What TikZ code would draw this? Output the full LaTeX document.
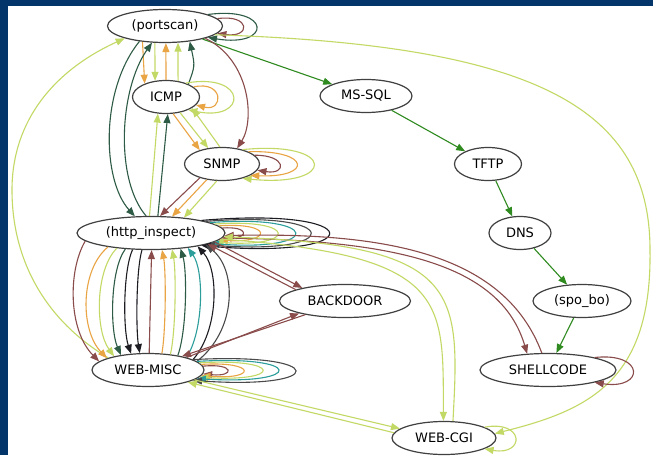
\documentclass[tikz,border=0pt]{standalone}
\usepackage{fontspec}
\setmainfont{DejaVu Sans}
\usetikzlibrary{shapes.geometric,arrows.meta}

\definecolor{frameblue}{HTML}{04356A}
\definecolor{brn}{HTML}{8A4B4B}
\definecolor{org}{HTML}{E9A443}
\definecolor{lim}{HTML}{C2D965}
\definecolor{dgr}{HTML}{2E5B45}
\definecolor{tea}{HTML}{2B9E9B}
\definecolor{blk}{HTML}{1C1C22}
\definecolor{gry}{HTML}{4A4A4A}
\definecolor{grn}{HTML}{2F8B20}

\begin{document}
\begin{tikzpicture}[x=1pt,y=-1pt,
  state/.style={ellipse,draw=black!75,line width=1.2pt,fill=white,inner sep=0pt,
    minimum height=33pt,font=\fontsize{13}{15}\selectfont},
  edge/.style={line width=1.1pt,-{Triangle[length=9pt,width=7pt]}}]

\useasboundingbox (0,0) rectangle (653,455);
\fill[frameblue] (0,0) rectangle (653,455);
\fill[white] (8,6) rectangle (653,455);

    % Nodes
    \node[state,minimum width=115pt] (ps) at (165,26) {(portscan)};
    \node[state,minimum width=67pt] (icmp) at (166,97) {ICMP};
    \node[state,minimum width=75pt] (snmp) at (222,164) {SNMP};
    \node[state,minimum width=148pt] (http) at (151,233) {(http\_inspect)};
    \node[state,minimum width=112pt] (wm) at (148,370) {WEB-MISC};
    \node[state,minimum width=131pt] (bd) at (345,301) {BACKDOOR};
    \node[state,minimum width=92pt] (ms) at (366,96) {MS-SQL};
    \node[state,minimum width=67pt] (tftp) at (488,164) {TFTP};
    \node[state,minimum width=62pt] (dns) at (520,233) {DNS};
    \node[state,minimum width=98pt] (spo) at (582,301) {(spo\_bo)};
    \node[state,minimum width=136pt] (sc) at (548,370) {SHELLCODE};
    \node[state,minimum width=104pt] (cgi) at (444,438) {WEB-CGI};

    % Green chain
    \draw[edge,grn] (ps) -- (ms);
    \draw[edge,grn] (ms) -- (tftp);
    \draw[edge,grn] (tftp) -- (dns);
    \draw[edge,grn] (dns) -- (spo);
    \draw[edge,grn] (spo) -- (sc);

    % portscan loops and long curves
    \draw[edge,brn] (ps.8) .. controls (251,14) and (251,38) .. (ps.-8);
    \draw[edge,dgr] (ps.15) .. controls (272,6) and (272,48) .. (ps.-15);
    \draw[edge,lim] (ps.-10) .. controls (540,45) and (650,110) .. (650,250)
        .. controls (652,380) and (590,410) .. (cgi.5);
    \draw[edge,lim] (wm.163) .. controls (45,320) and (12,260) .. (12,190)
        .. controls (12,120) and (55,70) .. (ps.197);

    % portscan - ICMP - http_inspect
    \draw[edge,org] (ps.215) -- (icmp.148);
    \draw[edge,lim] (ps.239) -- (icmp.124);
    \draw[edge,org] (icmp.90) -- (ps.273);
    \draw[edge,lim] (icmp.53) -- (ps.308);
    \draw[edge,dgr] (icmp.30) .. controls (195,66) .. (ps.328);
    \draw[edge,dgr] (ps.211) .. controls (100,90) and (102,180) .. (http.134);
    \draw[edge,dgr] (http.106) .. controls (115,180) and (119,90) .. (ps.232);
    \draw[edge,lim] (http.95) -- (icmp.244);
    \draw[edge,dgr] (http.68) -- (icmp.276);
    \draw[edge,brn] (ps.343) .. controls (250,60) and (255,120) .. (snmp.46);

    % ICMP loops, ICMP - SNMP
    \draw[edge,org] (icmp.20) .. controls (224,80) and (224,112) .. (icmp.-15);
    \draw[edge,lim] (icmp.35) .. controls (248,72) and (248,122) .. (icmp.-30);
    \draw[edge,org] (icmp.293) -- (snmp.148);
    \draw[edge,lim] (icmp.312) -- (snmp.131);
    \draw[edge,lim] (snmp.97) -- (icmp.337);

    % SNMP loops, SNMP - http_inspect
    \draw[edge,brn] (snmp.15) .. controls (287,155) and (287,175) .. (snmp.-10);
    \draw[edge,org] (snmp.25) .. controls (312,150) and (312,178) .. (snmp.-22);
    \draw[edge,lim] (snmp.35) .. controls (337,140) and (337,188) .. (snmp.-35);
    \draw[edge,brn] (snmp.212) -- (http.62);
    \draw[edge,org] (snmp.226) -- (http.38);
    \draw[edge,lim] (snmp.253) -- (http.25);

    % http_inspect loops
    \draw[edge,brn] (http.4) .. controls (249,226) and (249,238) .. (http.-4);
    \draw[edge,org] (http.6) .. controls (273,222) and (273,243) .. (http.-6);
    \draw[edge,lim] (http.8) .. controls (298,218) and (298,248) .. (http.-8);
    \draw[edge,tea] (http.10) .. controls (323,214) and (323,252) .. (http.-10);
    \draw[edge,gry] (http.12) .. controls (345,210) and (345,256) .. (http.-12);
    \draw[edge,blk] (http.14) .. controls (371,206) and (371,260) .. (http.-14);

    % http_inspect -> WEB-MISC
    \draw[edge,brn] (http.187) .. controls (68,270) and (68,330) .. (wm.170);
    \draw[edge,org] (http.198) .. controls (80,270) and (80,330) .. (wm.164);
    \draw[edge,lim] (http.204) .. controls (95,270) and (95,330) .. (wm.158);
    \draw[edge,dgr] (http.212) .. controls (110,270) and (110,330) .. (wm.151);
    \draw[edge,blk] (http.222) .. controls (123,270) and (123,330) .. (wm.136);
    \draw[edge,blk] (http.242) .. controls (136,270) and (136,330) .. (wm.116);

    % WEB-MISC -> http_inspect
    \draw[edge,brn] (wm.86) -- (http.272);
    \draw[edge,org] (wm.50) .. controls (166,330) and (166,270) .. (http.303);
    \draw[edge,lim] (wm.35) .. controls (176,330) and (176,270) .. (http.322);
    \draw[edge,dgr] (wm.26) .. controls (187,330) and (187,270) .. (http.332);
    \draw[edge,tea] (wm.18) .. controls (204,330) and (204,270) .. (http.338);
    \draw[edge,blk] (wm.13) .. controls (219,330) and (219,270) .. (http.344);
    \draw[edge,gry] (wm.10) .. controls (237,330) and (237,270) .. (http.348);

    % WEB-MISC loops
    \draw[edge,brn] (wm.4) .. controls (235,363) and (235,377) .. (wm.-4);
    \draw[edge,org] (wm.6) .. controls (257,361) and (257,380) .. (wm.-6);
    \draw[edge,lim] (wm.8) .. controls (283,358) and (283,382) .. (wm.-8);
    \draw[edge,tea] (wm.10) .. controls (305,355) and (305,385) .. (wm.-10);
    \draw[edge,gry] (wm.13) .. controls (329,352) and (329,390) .. (wm.-13);

    % BACKDOOR
    \draw[edge,brn] (http.-8) -- (bd.163);
    \draw[edge,brn] (bd.167) -- (http.-11);
    \draw[edge,brn] (wm.18) -- (bd.195);
    \draw[edge,brn] (bd.199) -- (wm.22);

    % SHELLCODE
    \draw[edge,brn] (http.-4) .. controls (390,240) and (500,262) .. (sc.142);
    \draw[edge,brn] (sc.110) .. controls (505,255) and (390,232) .. (http.-2);
    \draw[edge,brn] (sc.15) .. controls (645,352) and (645,390) .. (sc.-15);

    % WEB-CGI
    \draw[edge,lim] (http.-5) .. controls (450,255) and (443,300) .. (cgi.92);
    \draw[edge,lim] (cgi.62) .. controls (460,290) and (462,245) .. (http.-3);
    \draw[edge,lim] (wm.-12) -- (cgi.168);
    \draw[edge,lim] (cgi.174) -- (wm.-17);
    \draw[edge,lim] (cgi.15) .. controls (525,420) and (525,456) .. (cgi.-15);

\end{tikzpicture}
\end{document}
